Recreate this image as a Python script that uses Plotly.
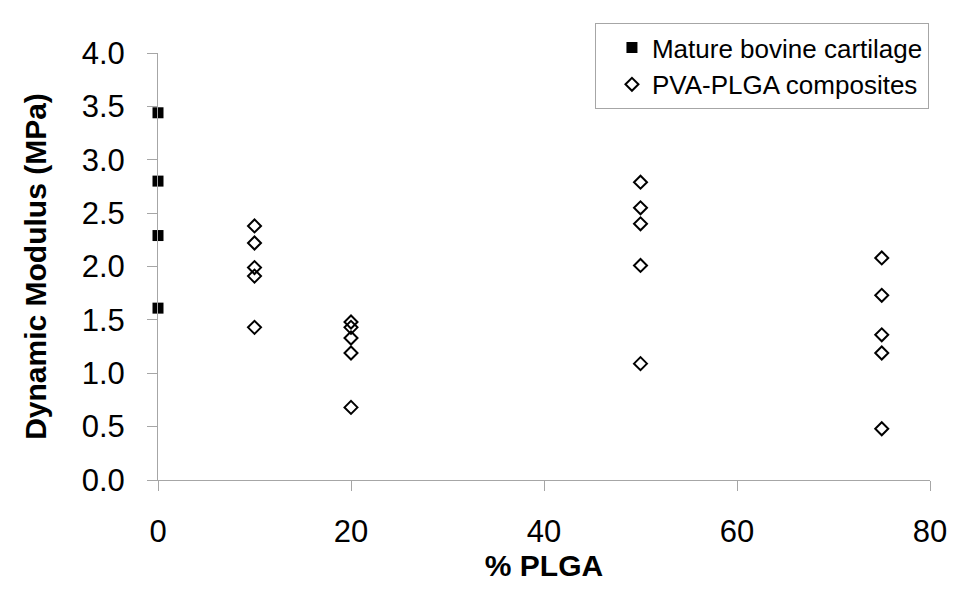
import plotly.graph_objects as go

# values
cartilage_x = [0, 0, 0, 0]
cartilage_y = [3.44, 2.80, 2.29, 1.61]

composite_x = [10, 10, 10, 10, 10,
               20, 20, 20, 20, 20,
               50, 50, 50, 50, 50,
               75, 75, 75, 75, 75]
composite_y = [2.38, 2.22, 1.99, 1.91, 1.43,
               1.48, 1.43, 1.33, 1.19, 0.68,
               2.79, 2.55, 2.40, 2.01, 1.09,
               2.08, 1.73, 1.36, 1.19, 0.48]

font = "Liberation Sans, Arial, sans-serif"
gray = "#a6a6a6"

fig = go.Figure()
fig.add_trace(go.Scatter(x=cartilage_x, y=cartilage_y, mode="markers",
                         name="Mature bovine cartilage", cliponaxis=False,
                         marker=dict(symbol="square", size=11, color="black")))
fig.add_trace(go.Scatter(x=composite_x, y=composite_y, mode="markers",
                         name="PVA-PLGA composites", cliponaxis=False,
                         marker=dict(symbol="diamond-open", size=10, color="black",
                                     line=dict(width=2, color="black"))))

fig.update_layout(
    width=966, height=600,
    margin=dict(l=150, r=44, t=45, b=128),
    paper_bgcolor="white", plot_bgcolor="white",
    font=dict(family=font, color="black"),
    showlegend=True,
    legend=dict(x=0.566, y=1.07, xanchor="left", yanchor="top",
                bordercolor=gray, borderwidth=1, bgcolor="white",
                font=dict(size=26), tracegroupgap=0,
                indentation=16, entrywidth=330, entrywidthmode="pixels"),
)
fig.update_xaxes(range=[0, 80], tickvals=[0, 20, 40, 60, 80],
                 showgrid=False, zeroline=False, showline=True, linecolor=gray,
                 ticks="outside", ticklen=10, tickcolor=gray,
                 tickfont=dict(size=31), ticklabelstandoff=14,
                 title=dict(text="<b>% PLGA</b>", font=dict(size=30), standoff=4),
                 automargin=False)
fig.update_yaxes(range=[0, 4], tickvals=[0, 0.5, 1, 1.5, 2, 2.5, 3, 3.5, 4],
                 tickformat=".1f",
                 showgrid=False, zeroline=False, showline=True, linecolor=gray,
                 ticks="outside", ticklen=10, tickcolor=gray,
                 tickfont=dict(size=31), ticklabelstandoff=16,
                 title=dict(text="<b>Dynamic Modulus (MPa)</b>", font=dict(size=30), standoff=26),
                 automargin=False)

fig.write_html("out.html")
